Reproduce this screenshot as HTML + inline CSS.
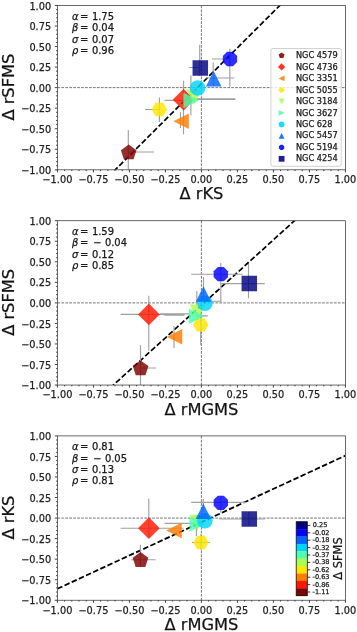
<!DOCTYPE html>
<html><head><meta charset="utf-8"><title>Figure</title>
<style>html,body{margin:0;padding:0;background:#fff}svg{display:block;filter:blur(0.4px)}text{stroke:#222;stroke-width:0.25px}</style></head>
<body>
<svg width="357" height="632" viewBox="0 0 357 632" font-family='DejaVu Sans,Liberation Sans,sans-serif'>
<rect width="357" height="632" fill="#fff"/>
<g>
<clipPath id="c0"><rect x="57.4" y="5.45" width="288" height="164.35"/></clipPath>
<g clip-path="url(#c0)">
<path d="M57.4 87.62H345.4 M201.4 5.45V169.8" stroke="#686868" stroke-width="0.9" stroke-dasharray="2.75 1.2" fill="none"/>
<path d="M57.4 227.57L345.4 -60.04" stroke="#000" stroke-width="1.7" stroke-dasharray="5.55 2.4" fill="none" stroke-dashoffset="0"/>
<path d="M128.4 152H154.2 M128.3 130V175 M164.4 100.3H185 M183.5 80.7V134.2 M180.5 111.8V128 M145 109.5H160 M159.4 97.5V122 M190 98.8H235.4 M185 99.5H235.4 M190.9 75.6V115.2 M206 78H234.4 M213.2 62.5V86 M212 59H231 M229.8 48.7V86.8 M188.8 67.5H201 M199.7 44.8V76" stroke="#a0a0a0" stroke-width="1.15" fill="none"/>
<polygon points="128.7,144.48 136.51,150.16 133.53,159.35 123.87,159.35 120.89,150.16" fill="#800000" fill-opacity="0.82"/>
<polygon points="183.6,88.85 194.45,99.7 183.6,110.55 172.75,99.7" fill="#ff1700" fill-opacity="0.82"/>
<polygon points="173.35,121.2 188.85,113.45 188.85,128.95" fill="#ff7d00" fill-opacity="0.82"/>
<polygon points="167.15,109.5 163.28,116.21 155.53,116.21 151.65,109.5 155.53,102.79 163.28,102.79" fill="#ffe600" fill-opacity="0.82"/>
<polygon points="194.2,104.95 201.95,89.45 186.45,89.45" fill="#aaff4d" fill-opacity="0.82"/>
<polygon points="198.85,100.6 183.35,92.85 183.35,108.35" fill="#4dffaa" fill-opacity="0.82"/>
<circle cx="197.7" cy="88" r="7.75" fill="#00d4ff" fill-opacity="0.82"/>
<polygon points="213.7,71.05 221.45,86.55 205.95,86.55" fill="#0064ff" fill-opacity="0.82"/>
<polygon points="237.16,61.97 232.97,66.16 227.03,66.16 222.84,61.97 222.84,56.03 227.03,51.84 232.97,51.84 237.16,56.03" fill="#0000ff" fill-opacity="0.82"/>
<rect x="192.55" y="60.25" width="15.5" height="15.5" fill="#000080" fill-opacity="0.82"/>
</g>
<rect x="57.4" y="5.45" width="288" height="164.35" fill="none" stroke="#444" stroke-width="0.8"/>
<path d="M57.4 169.8v2.6 M57.4 169.8h-2.6 M64.6 169.8v1.3 M57.4 165.69h-1.3 M71.8 169.8v1.3 M57.4 161.58h-1.3 M79 169.8v1.3 M57.4 157.47h-1.3 M86.2 169.8v1.3 M57.4 153.36h-1.3 M93.4 169.8v2.6 M57.4 149.26h-2.6 M100.6 169.8v1.3 M57.4 145.15h-1.3 M107.8 169.8v1.3 M57.4 141.04h-1.3 M115 169.8v1.3 M57.4 136.93h-1.3 M122.2 169.8v1.3 M57.4 132.82h-1.3 M129.4 169.8v2.6 M57.4 128.71h-2.6 M136.6 169.8v1.3 M57.4 124.6h-1.3 M143.8 169.8v1.3 M57.4 120.49h-1.3 M151 169.8v1.3 M57.4 116.39h-1.3 M158.2 169.8v1.3 M57.4 112.28h-1.3 M165.4 169.8v2.6 M57.4 108.17h-2.6 M172.6 169.8v1.3 M57.4 104.06h-1.3 M179.8 169.8v1.3 M57.4 99.95h-1.3 M187 169.8v1.3 M57.4 95.84h-1.3 M194.2 169.8v1.3 M57.4 91.73h-1.3 M201.4 169.8v2.6 M57.4 87.62h-2.6 M208.6 169.8v1.3 M57.4 83.52h-1.3 M215.8 169.8v1.3 M57.4 79.41h-1.3 M223 169.8v1.3 M57.4 75.3h-1.3 M230.2 169.8v1.3 M57.4 71.19h-1.3 M237.4 169.8v2.6 M57.4 67.08h-2.6 M244.6 169.8v1.3 M57.4 62.97h-1.3 M251.8 169.8v1.3 M57.4 58.86h-1.3 M259 169.8v1.3 M57.4 54.75h-1.3 M266.2 169.8v1.3 M57.4 50.65h-1.3 M273.4 169.8v2.6 M57.4 46.54h-2.6 M280.6 169.8v1.3 M57.4 42.43h-1.3 M287.8 169.8v1.3 M57.4 38.32h-1.3 M295 169.8v1.3 M57.4 34.21h-1.3 M302.2 169.8v1.3 M57.4 30.1h-1.3 M309.4 169.8v2.6 M57.4 25.99h-2.6 M316.6 169.8v1.3 M57.4 21.88h-1.3 M323.8 169.8v1.3 M57.4 17.78h-1.3 M331 169.8v1.3 M57.4 13.67h-1.3 M338.2 169.8v1.3 M57.4 9.56h-1.3 M345.4 169.8v2.6 M57.4 5.45h-2.6" stroke="#222" stroke-width="0.85" fill="none"/>
<text x="57.4" y="183.1" font-size="9.75" text-anchor="middle" fill="#222">−1.00</text>
<text x="51.1" y="173.95" font-size="9.75" text-anchor="end" fill="#222">−1.00</text>
<text x="93.4" y="183.1" font-size="9.75" text-anchor="middle" fill="#222">−0.75</text>
<text x="51.1" y="153.41" font-size="9.75" text-anchor="end" fill="#222">−0.75</text>
<text x="129.4" y="183.1" font-size="9.75" text-anchor="middle" fill="#222">−0.50</text>
<text x="51.1" y="132.86" font-size="9.75" text-anchor="end" fill="#222">−0.50</text>
<text x="165.4" y="183.1" font-size="9.75" text-anchor="middle" fill="#222">−0.25</text>
<text x="51.1" y="112.32" font-size="9.75" text-anchor="end" fill="#222">−0.25</text>
<text x="201.4" y="183.1" font-size="9.75" text-anchor="middle" fill="#222">0.00</text>
<text x="51.1" y="91.78" font-size="9.75" text-anchor="end" fill="#222">0.00</text>
<text x="237.4" y="183.1" font-size="9.75" text-anchor="middle" fill="#222">0.25</text>
<text x="51.1" y="71.23" font-size="9.75" text-anchor="end" fill="#222">0.25</text>
<text x="273.4" y="183.1" font-size="9.75" text-anchor="middle" fill="#222">0.50</text>
<text x="51.1" y="50.69" font-size="9.75" text-anchor="end" fill="#222">0.50</text>
<text x="309.4" y="183.1" font-size="9.75" text-anchor="middle" fill="#222">0.75</text>
<text x="51.1" y="30.14" font-size="9.75" text-anchor="end" fill="#222">0.75</text>
<text x="345.4" y="183.1" font-size="9.75" text-anchor="middle" fill="#222">1.00</text>
<text x="51.1" y="9.6" font-size="9.75" text-anchor="end" fill="#222">1.00</text>
<text x="201.4" y="199.4" font-size="16.25" text-anchor="middle" fill="#111">Δ rKS</text>
<text transform="translate(14 87.12) rotate(-90)" font-size="16.25" text-anchor="middle" fill="#111">Δ rSFMS</text>
<text x="72.0" y="19.75" font-size="9.95" fill="#111"><tspan font-style="italic">α</tspan><tspan x="80.0">=</tspan><tspan x="91.9">1.75</tspan></text>
<text x="72.0" y="31.15" font-size="9.95" fill="#111"><tspan font-style="italic">β</tspan><tspan x="80.0">=</tspan><tspan x="91.9">0.04</tspan></text>
<text x="72.0" y="42.55" font-size="9.95" fill="#111"><tspan font-style="italic">σ</tspan><tspan x="80.0">=</tspan><tspan x="91.9">0.07</tspan></text>
<text x="72.0" y="53.95" font-size="9.95" fill="#111"><tspan font-style="italic">ρ</tspan><tspan x="80.0">=</tspan><tspan x="91.9">0.96</tspan></text>
</g>
<g>
<clipPath id="c1"><rect x="57.4" y="220.7" width="288" height="164.35"/></clipPath>
<g clip-path="url(#c1)">
<path d="M57.4 302.88H345.4 M201.4 220.7V385.05" stroke="#686868" stroke-width="0.9" stroke-dasharray="2.75 1.2" fill="none"/>
<path d="M57.4 435.83L345.4 174.52" stroke="#000" stroke-width="1.7" stroke-dasharray="5.52 2.38" fill="none" stroke-dashoffset="0"/>
<path d="M140.6 368H156 M140.5 345V390 M120.6 314.4H183.5 M148.8 295.8V350.4 M174 326V348 M200.7 312V345 M164.4 315.2H184.5 M160 313.8H189 M196 315.8H207.8 M205 301.2H221.7 M203.5 277V300 M196.8 291V306 M191.2 274.2H242.6 M220.8 263V301.6 M221.5 283.6H264.8 M248.5 264V298.2" stroke="#a0a0a0" stroke-width="1.15" fill="none"/>
<polygon points="140.6,360.39 148.41,366.06 145.43,375.25 135.77,375.25 132.79,366.06" fill="#800000" fill-opacity="0.82"/>
<polygon points="148.9,303.55 159.75,314.4 148.9,325.25 138.05,314.4" fill="#ff1700" fill-opacity="0.82"/>
<polygon points="166.75,336.7 182.25,328.95 182.25,344.45" fill="#ff7d00" fill-opacity="0.82"/>
<polygon points="208.55,324.9 204.68,331.61 196.93,331.61 193.05,324.9 196.93,318.19 204.68,318.19" fill="#ffe600" fill-opacity="0.82"/>
<polygon points="197.5,320.05 205.25,304.55 189.75,304.55" fill="#aaff4d" fill-opacity="0.82"/>
<polygon points="204.35,316.3 188.85,308.55 188.85,324.05" fill="#4dffaa" fill-opacity="0.82"/>
<circle cx="205" cy="303.2" r="7.75" fill="#00d4ff" fill-opacity="0.82"/>
<polygon points="203.5,286.35 211.25,301.85 195.75,301.85" fill="#0064ff" fill-opacity="0.82"/>
<polygon points="227.96,277.17 223.77,281.36 217.83,281.36 213.64,277.17 213.64,271.23 217.83,267.04 223.77,267.04 227.96,271.23" fill="#0000ff" fill-opacity="0.82"/>
<rect x="241.55" y="275.75" width="15.5" height="15.5" fill="#000080" fill-opacity="0.82"/>
</g>
<rect x="57.4" y="220.7" width="288" height="164.35" fill="none" stroke="#444" stroke-width="0.8"/>
<path d="M57.4 385.05v2.6 M57.4 385.05h-2.6 M64.6 385.05v1.3 M57.4 380.94h-1.3 M71.8 385.05v1.3 M57.4 376.83h-1.3 M79 385.05v1.3 M57.4 372.72h-1.3 M86.2 385.05v1.3 M57.4 368.62h-1.3 M93.4 385.05v2.6 M57.4 364.51h-2.6 M100.6 385.05v1.3 M57.4 360.4h-1.3 M107.8 385.05v1.3 M57.4 356.29h-1.3 M115 385.05v1.3 M57.4 352.18h-1.3 M122.2 385.05v1.3 M57.4 348.07h-1.3 M129.4 385.05v2.6 M57.4 343.96h-2.6 M136.6 385.05v1.3 M57.4 339.85h-1.3 M143.8 385.05v1.3 M57.4 335.75h-1.3 M151 385.05v1.3 M57.4 331.64h-1.3 M158.2 385.05v1.3 M57.4 327.53h-1.3 M165.4 385.05v2.6 M57.4 323.42h-2.6 M172.6 385.05v1.3 M57.4 319.31h-1.3 M179.8 385.05v1.3 M57.4 315.2h-1.3 M187 385.05v1.3 M57.4 311.09h-1.3 M194.2 385.05v1.3 M57.4 306.98h-1.3 M201.4 385.05v2.6 M57.4 302.88h-2.6 M208.6 385.05v1.3 M57.4 298.77h-1.3 M215.8 385.05v1.3 M57.4 294.66h-1.3 M223 385.05v1.3 M57.4 290.55h-1.3 M230.2 385.05v1.3 M57.4 286.44h-1.3 M237.4 385.05v2.6 M57.4 282.33h-2.6 M244.6 385.05v1.3 M57.4 278.22h-1.3 M251.8 385.05v1.3 M57.4 274.11h-1.3 M259 385.05v1.3 M57.4 270h-1.3 M266.2 385.05v1.3 M57.4 265.9h-1.3 M273.4 385.05v2.6 M57.4 261.79h-2.6 M280.6 385.05v1.3 M57.4 257.68h-1.3 M287.8 385.05v1.3 M57.4 253.57h-1.3 M295 385.05v1.3 M57.4 249.46h-1.3 M302.2 385.05v1.3 M57.4 245.35h-1.3 M309.4 385.05v2.6 M57.4 241.24h-2.6 M316.6 385.05v1.3 M57.4 237.13h-1.3 M323.8 385.05v1.3 M57.4 233.03h-1.3 M331 385.05v1.3 M57.4 228.92h-1.3 M338.2 385.05v1.3 M57.4 224.81h-1.3 M345.4 385.05v2.6 M57.4 220.7h-2.6" stroke="#222" stroke-width="0.85" fill="none"/>
<text x="57.4" y="398.35" font-size="9.75" text-anchor="middle" fill="#222">−1.00</text>
<text x="51.1" y="389.2" font-size="9.75" text-anchor="end" fill="#222">−1.00</text>
<text x="93.4" y="398.35" font-size="9.75" text-anchor="middle" fill="#222">−0.75</text>
<text x="51.1" y="368.66" font-size="9.75" text-anchor="end" fill="#222">−0.75</text>
<text x="129.4" y="398.35" font-size="9.75" text-anchor="middle" fill="#222">−0.50</text>
<text x="51.1" y="348.11" font-size="9.75" text-anchor="end" fill="#222">−0.50</text>
<text x="165.4" y="398.35" font-size="9.75" text-anchor="middle" fill="#222">−0.25</text>
<text x="51.1" y="327.57" font-size="9.75" text-anchor="end" fill="#222">−0.25</text>
<text x="201.4" y="398.35" font-size="9.75" text-anchor="middle" fill="#222">0.00</text>
<text x="51.1" y="307.02" font-size="9.75" text-anchor="end" fill="#222">0.00</text>
<text x="237.4" y="398.35" font-size="9.75" text-anchor="middle" fill="#222">0.25</text>
<text x="51.1" y="286.48" font-size="9.75" text-anchor="end" fill="#222">0.25</text>
<text x="273.4" y="398.35" font-size="9.75" text-anchor="middle" fill="#222">0.50</text>
<text x="51.1" y="265.94" font-size="9.75" text-anchor="end" fill="#222">0.50</text>
<text x="309.4" y="398.35" font-size="9.75" text-anchor="middle" fill="#222">0.75</text>
<text x="51.1" y="245.39" font-size="9.75" text-anchor="end" fill="#222">0.75</text>
<text x="345.4" y="398.35" font-size="9.75" text-anchor="middle" fill="#222">1.00</text>
<text x="51.1" y="224.85" font-size="9.75" text-anchor="end" fill="#222">1.00</text>
<text x="201.4" y="414.65" font-size="16.25" text-anchor="middle" fill="#111">Δ rMGMS</text>
<text transform="translate(14 302.38) rotate(-90)" font-size="16.25" text-anchor="middle" fill="#111">Δ rSFMS</text>
<text x="72.0" y="235" font-size="9.95" fill="#111"><tspan font-style="italic">α</tspan><tspan x="80.0">=</tspan><tspan x="91.9">1.59</tspan></text>
<text x="72.0" y="246.4" font-size="9.95" fill="#111"><tspan font-style="italic">β</tspan><tspan x="80.0">=</tspan><tspan x="93.2">−</tspan><tspan x="104.9">0.04</tspan></text>
<text x="72.0" y="257.8" font-size="9.95" fill="#111"><tspan font-style="italic">σ</tspan><tspan x="80.0">=</tspan><tspan x="91.9">0.12</tspan></text>
<text x="72.0" y="269.2" font-size="9.95" fill="#111"><tspan font-style="italic">ρ</tspan><tspan x="80.0">=</tspan><tspan x="91.9">0.85</tspan></text>
</g>
<g>
<clipPath id="c2"><rect x="57.4" y="435.9" width="288" height="164.35"/></clipPath>
<g clip-path="url(#c2)">
<path d="M57.4 518.07H345.4 M201.4 435.9V600.25" stroke="#686868" stroke-width="0.9" stroke-dasharray="2.75 1.2" fill="none"/>
<path d="M57.4 588.75L345.4 455.62" stroke="#000" stroke-width="1.8" stroke-dasharray="5.5 2.38" fill="none" stroke-dashoffset="0"/>
<path d="M131.4 559.7H155.6 M140.4 544.7V566 M120.6 528.2H183.5 M148.8 498.5V538 M164.6 523.4H195 M196.4 515V536 M192 542.5H210 M201 534V550 M191.2 502.4H246 M220.8 495.7V512.5 M203.2 499V512 M219.2 519H264.8 M249 512V526" stroke="#a0a0a0" stroke-width="1.15" fill="none"/>
<polygon points="140.5,552.08 148.31,557.76 145.33,566.95 135.67,566.95 132.69,557.76" fill="#800000" fill-opacity="0.82"/>
<polygon points="148.9,517.35 159.75,528.2 148.9,539.05 138.05,528.2" fill="#ff1700" fill-opacity="0.82"/>
<polygon points="166.25,530.4 181.75,522.65 181.75,538.15" fill="#ff7d00" fill-opacity="0.82"/>
<polygon points="208.75,542.5 204.88,549.21 197.12,549.21 193.25,542.5 197.12,535.79 204.88,535.79" fill="#ffe600" fill-opacity="0.82"/>
<polygon points="197.5,530.35 205.25,514.85 189.75,514.85" fill="#aaff4d" fill-opacity="0.82"/>
<polygon points="204.95,524 189.45,516.25 189.45,531.75" fill="#4dffaa" fill-opacity="0.82"/>
<circle cx="204.9" cy="520.8" r="7.75" fill="#00d4ff" fill-opacity="0.82"/>
<polygon points="203.4,503.55 211.15,519.05 195.65,519.05" fill="#0064ff" fill-opacity="0.82"/>
<polygon points="227.96,505.77 223.77,509.96 217.83,509.96 213.64,505.77 213.64,499.83 217.83,495.64 223.77,495.64 227.96,499.83" fill="#0000ff" fill-opacity="0.82"/>
<rect x="241.55" y="511.25" width="15.5" height="15.5" fill="#000080" fill-opacity="0.82"/>
</g>
<rect x="57.4" y="435.9" width="288" height="164.35" fill="none" stroke="#444" stroke-width="0.8"/>
<path d="M57.4 600.25v2.6 M57.4 600.25h-2.6 M64.6 600.25v1.3 M57.4 596.14h-1.3 M71.8 600.25v1.3 M57.4 592.03h-1.3 M79 600.25v1.3 M57.4 587.92h-1.3 M86.2 600.25v1.3 M57.4 583.81h-1.3 M93.4 600.25v2.6 M57.4 579.71h-2.6 M100.6 600.25v1.3 M57.4 575.6h-1.3 M107.8 600.25v1.3 M57.4 571.49h-1.3 M115 600.25v1.3 M57.4 567.38h-1.3 M122.2 600.25v1.3 M57.4 563.27h-1.3 M129.4 600.25v2.6 M57.4 559.16h-2.6 M136.6 600.25v1.3 M57.4 555.05h-1.3 M143.8 600.25v1.3 M57.4 550.94h-1.3 M151 600.25v1.3 M57.4 546.84h-1.3 M158.2 600.25v1.3 M57.4 542.73h-1.3 M165.4 600.25v2.6 M57.4 538.62h-2.6 M172.6 600.25v1.3 M57.4 534.51h-1.3 M179.8 600.25v1.3 M57.4 530.4h-1.3 M187 600.25v1.3 M57.4 526.29h-1.3 M194.2 600.25v1.3 M57.4 522.18h-1.3 M201.4 600.25v2.6 M57.4 518.07h-2.6 M208.6 600.25v1.3 M57.4 513.97h-1.3 M215.8 600.25v1.3 M57.4 509.86h-1.3 M223 600.25v1.3 M57.4 505.75h-1.3 M230.2 600.25v1.3 M57.4 501.64h-1.3 M237.4 600.25v2.6 M57.4 497.53h-2.6 M244.6 600.25v1.3 M57.4 493.42h-1.3 M251.8 600.25v1.3 M57.4 489.31h-1.3 M259 600.25v1.3 M57.4 485.2h-1.3 M266.2 600.25v1.3 M57.4 481.1h-1.3 M273.4 600.25v2.6 M57.4 476.99h-2.6 M280.6 600.25v1.3 M57.4 472.88h-1.3 M287.8 600.25v1.3 M57.4 468.77h-1.3 M295 600.25v1.3 M57.4 464.66h-1.3 M302.2 600.25v1.3 M57.4 460.55h-1.3 M309.4 600.25v2.6 M57.4 456.44h-2.6 M316.6 600.25v1.3 M57.4 452.33h-1.3 M323.8 600.25v1.3 M57.4 448.23h-1.3 M331 600.25v1.3 M57.4 444.12h-1.3 M338.2 600.25v1.3 M57.4 440.01h-1.3 M345.4 600.25v2.6 M57.4 435.9h-2.6" stroke="#222" stroke-width="0.85" fill="none"/>
<text x="57.4" y="613.55" font-size="9.75" text-anchor="middle" fill="#222">−1.00</text>
<text x="51.1" y="604.4" font-size="9.75" text-anchor="end" fill="#222">−1.00</text>
<text x="93.4" y="613.55" font-size="9.75" text-anchor="middle" fill="#222">−0.75</text>
<text x="51.1" y="583.86" font-size="9.75" text-anchor="end" fill="#222">−0.75</text>
<text x="129.4" y="613.55" font-size="9.75" text-anchor="middle" fill="#222">−0.50</text>
<text x="51.1" y="563.31" font-size="9.75" text-anchor="end" fill="#222">−0.50</text>
<text x="165.4" y="613.55" font-size="9.75" text-anchor="middle" fill="#222">−0.25</text>
<text x="51.1" y="542.77" font-size="9.75" text-anchor="end" fill="#222">−0.25</text>
<text x="201.4" y="613.55" font-size="9.75" text-anchor="middle" fill="#222">0.00</text>
<text x="51.1" y="522.22" font-size="9.75" text-anchor="end" fill="#222">0.00</text>
<text x="237.4" y="613.55" font-size="9.75" text-anchor="middle" fill="#222">0.25</text>
<text x="51.1" y="501.68" font-size="9.75" text-anchor="end" fill="#222">0.25</text>
<text x="273.4" y="613.55" font-size="9.75" text-anchor="middle" fill="#222">0.50</text>
<text x="51.1" y="481.14" font-size="9.75" text-anchor="end" fill="#222">0.50</text>
<text x="309.4" y="613.55" font-size="9.75" text-anchor="middle" fill="#222">0.75</text>
<text x="51.1" y="460.59" font-size="9.75" text-anchor="end" fill="#222">0.75</text>
<text x="345.4" y="613.55" font-size="9.75" text-anchor="middle" fill="#222">1.00</text>
<text x="51.1" y="440.05" font-size="9.75" text-anchor="end" fill="#222">1.00</text>
<text x="201.4" y="629.85" font-size="16.25" text-anchor="middle" fill="#111">Δ rMGMS</text>
<text transform="translate(14 517.58) rotate(-90)" font-size="16.25" text-anchor="middle" fill="#111">Δ rKS</text>
<text x="72.0" y="450.2" font-size="9.95" fill="#111"><tspan font-style="italic">α</tspan><tspan x="80.0">=</tspan><tspan x="91.9">0.81</tspan></text>
<text x="72.0" y="461.6" font-size="9.95" fill="#111"><tspan font-style="italic">β</tspan><tspan x="80.0">=</tspan><tspan x="93.2">−</tspan><tspan x="104.9">0.05</tspan></text>
<text x="72.0" y="473" font-size="9.95" fill="#111"><tspan font-style="italic">σ</tspan><tspan x="80.0">=</tspan><tspan x="91.9">0.13</tspan></text>
<text x="72.0" y="484.4" font-size="9.95" fill="#111"><tspan font-style="italic">ρ</tspan><tspan x="80.0">=</tspan><tspan x="91.9">0.81</tspan></text>
</g>
<rect x="270.9" y="48.5" width="70.3" height="117.8" rx="2" fill="#fff" fill-opacity="0.8" stroke="#ccc" stroke-width="0.9"/>
<polygon points="281.6,52.43 284.52,54.55 283.41,57.99 279.79,57.99 278.68,54.55" fill="#800000" fill-opacity="0.88"/>
<text x="296" y="58.1" font-size="8.2" fill="#111">NGC 4579</text>
<polygon points="281.6,63.34 285.24,66.98 281.6,70.62 277.96,66.98" fill="#ff1700" fill-opacity="0.88"/>
<text x="296" y="69.58" font-size="8.2" fill="#111">NGC 4736</text>
<polygon points="278.7,78.46 284.5,75.56 284.5,81.36" fill="#ff7d00" fill-opacity="0.88"/>
<text x="296" y="81.06" font-size="8.2" fill="#111">NGC 3351</text>
<polygon points="284.5,89.94 283.05,92.45 280.15,92.45 278.7,89.94 280.15,87.43 283.05,87.43" fill="#ffe600" fill-opacity="0.88"/>
<text x="296" y="92.54" font-size="8.2" fill="#111">NGC 5055</text>
<polygon points="281.6,104.32 284.5,98.52 278.7,98.52" fill="#aaff4d" fill-opacity="0.88"/>
<text x="296" y="104.02" font-size="8.2" fill="#111">NGC 3184</text>
<polygon points="284.5,112.9 278.7,110 278.7,115.8" fill="#4dffaa" fill-opacity="0.88"/>
<text x="296" y="115.5" font-size="8.2" fill="#111">NGC 3627</text>
<circle cx="281.6" cy="124.38" r="2.9" fill="#00d4ff" fill-opacity="0.88"/>
<text x="296" y="126.98" font-size="8.2" fill="#111">NGC 628</text>
<polygon points="281.6,132.96 284.5,138.76 278.7,138.76" fill="#0064ff" fill-opacity="0.88"/>
<text x="296" y="138.46" font-size="8.2" fill="#111">NGC 5457</text>
<polygon points="284.28,148.45 282.71,150.02 280.49,150.02 278.92,148.45 278.92,146.23 280.49,144.66 282.71,144.66 284.28,146.23" fill="#0000ff" fill-opacity="0.88"/>
<text x="296" y="149.94" font-size="8.2" fill="#111">NGC 5194</text>
<rect x="278.7" y="155.92" width="5.8" height="5.8" fill="#000080" fill-opacity="0.88"/>
<text x="296" y="161.42" font-size="8.2" fill="#111">NGC 4254</text>
<rect x="296.2" y="521.7" width="11.1" height="7.6" fill="#000080"/>
<path d="M307.3 525.4h3" stroke="#222" stroke-width="0.9"/>
<text x="312.7" y="527.4" font-size="6.6" fill="#111">0.25</text>
<rect x="296.2" y="529.1" width="11.1" height="7.6" fill="#0000ff"/>
<path d="M307.3 532.8h3" stroke="#222" stroke-width="0.9"/>
<text x="312.5" y="534.8" font-size="6.6" fill="#111">-0.02</text>
<rect x="296.2" y="536.5" width="11.1" height="7.6" fill="#0064ff"/>
<path d="M307.3 540.2h3" stroke="#222" stroke-width="0.9"/>
<text x="312.5" y="542.2" font-size="6.6" fill="#111">-0.18</text>
<rect x="296.2" y="543.9" width="11.1" height="7.6" fill="#00d4ff"/>
<path d="M307.3 547.6h3" stroke="#222" stroke-width="0.9"/>
<text x="312.5" y="549.6" font-size="6.6" fill="#111">-0.32</text>
<rect x="296.2" y="551.3" width="11.1" height="7.6" fill="#4dffaa"/>
<path d="M307.3 555h3" stroke="#222" stroke-width="0.9"/>
<text x="312.5" y="557" font-size="6.6" fill="#111">-0.37</text>
<rect x="296.2" y="558.7" width="11.1" height="7.6" fill="#aaff4d"/>
<path d="M307.3 562.4h3" stroke="#222" stroke-width="0.9"/>
<text x="312.5" y="564.4" font-size="6.6" fill="#111">-0.38</text>
<rect x="296.2" y="566.1" width="11.1" height="7.6" fill="#ffe600"/>
<path d="M307.3 569.8h3" stroke="#222" stroke-width="0.9"/>
<text x="312.5" y="571.8" font-size="6.6" fill="#111">-0.62</text>
<rect x="296.2" y="573.5" width="11.1" height="7.6" fill="#ff7d00"/>
<path d="M307.3 577.2h3" stroke="#222" stroke-width="0.9"/>
<text x="312.5" y="579.2" font-size="6.6" fill="#111">-0.63</text>
<rect x="296.2" y="580.9" width="11.1" height="7.6" fill="#ff1700"/>
<path d="M307.3 584.6h3" stroke="#222" stroke-width="0.9"/>
<text x="312.5" y="586.6" font-size="6.6" fill="#111">-0.86</text>
<rect x="296.2" y="588.3" width="11.1" height="7.6" fill="#800000"/>
<path d="M307.3 592h3" stroke="#222" stroke-width="0.9"/>
<text x="312.5" y="594" font-size="6.6" fill="#111">-1.11</text>
<rect x="296.2" y="521.7" width="11.1" height="74" fill="none" stroke="#111" stroke-width="0.8"/>
<text transform="translate(342.1 558.5) rotate(-90)" font-size="11.4" text-anchor="middle" fill="#111">Δ SFMS</text>
</svg>
</body></html>
